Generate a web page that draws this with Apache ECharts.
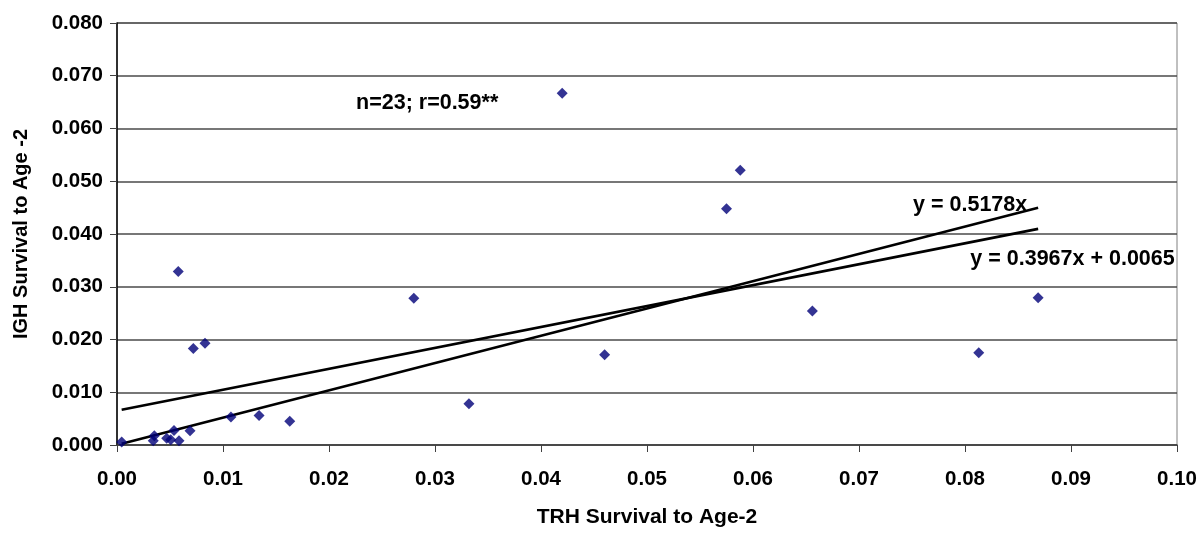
<!DOCTYPE html>
<html>
<head>
<meta charset="utf-8">
<script src="https://cdn.jsdelivr.net/npm/echarts@6/dist/echarts.min.js"></script>
<style>
  html, body { margin: 0; padding: 0; background: #fff; }
  #chart { width: 1201px; height: 535px; }
</style>
</head>
<body>
<div id="chart"></div>
<script>
// TRH vs IGH survival to age 2, one point per year
const trhSurvival = [
  0.00044, 0.00342, 0.00352, 0.00469, 0.00507, 0.00538, 0.00585, 0.00689,
  0.00578, 0.0072, 0.0083, 0.01075, 0.0134, 0.0163, 0.0280, 0.0332,
  0.0420, 0.0460, 0.0575, 0.0588, 0.0656, 0.0813, 0.0869
];
const ighSurvival = [
  0.00057, 0.0008, 0.00176, 0.0013, 0.0010, 0.00276, 0.0008, 0.0027,
  0.0329, 0.0183, 0.0193, 0.0053, 0.0056, 0.0045, 0.0278, 0.0078,
  0.0667, 0.0171, 0.0448, 0.0521, 0.0254, 0.0175, 0.0279
];

// Fitted trendlines (coefficients as printed on the chart)
const fitThroughOrigin = { slope: 0.5178, intercept: 0 };
const fitLinear = { slope: 0.3967, intercept: 0.0065 };

const xTicks = { min: 0, max: 0.10, step: 0.01 };
const yTicks = { min: 0, max: 0.080, step: 0.010 };

const statsText = 'n=23; r=0.59**';
const fitOriginText = 'y = 0.5178x';
const fitLinearText = 'y = 0.3967x + 0.0065';

const FONT = '"Liberation Sans", Arial, sans-serif';

const points = trhSurvival.map((x, i) => [x, ighSurvival[i]]);
const xLo = Math.min(...trhSurvival);
const xHi = Math.max(...trhSurvival);
const lineFrom = f => [[xLo, f.slope * xLo + f.intercept], [xHi, f.slope * xHi + f.intercept]];

const chart = echarts.init(document.getElementById('chart'), null, { renderer: 'canvas' });

const option = {
  animation: false,
  backgroundColor: '#ffffff',
  grid: {
    left: 117, right: 24, top: 23, bottom: 90,
    show: true, borderColor: '#808080', borderWidth: 1
  },
  xAxis: {
    type: 'value',
    min: xTicks.min, max: xTicks.max, interval: xTicks.step,
    name: 'TRH Survival to Age-2',
    nameLocation: 'middle',
    nameGap: 62,
    nameTextStyle: { fontFamily: FONT, fontWeight: 'bold', fontSize: 21, color: '#000' },
    axisLine: { show: true, onZero: false, lineStyle: { color: '#404040', width: 1.5 } },
    axisTick: { show: true, inside: false, length: 7, lineStyle: { color: '#404040', width: 1 } },
    axisLabel: {
      margin: 24,
      fontFamily: FONT, fontWeight: 'bold', fontSize: 20.5, color: '#000',
      formatter: v => v.toFixed(2)
    },
    splitLine: { show: false }
  },
  yAxis: {
    type: 'value',
    min: yTicks.min, max: yTicks.max, interval: yTicks.step,
    name: 'IGH Survival to Age -2',
    nameLocation: 'middle',
    nameGap: 86,
    nameRotate: 90,
    nameTextStyle: { fontFamily: FONT, fontWeight: 'bold', fontSize: 20, color: '#000' },
    axisLine: { show: true, onZero: false, lineStyle: { color: '#000', width: 1.5 } },
    axisTick: { show: true, inside: false, length: 7, lineStyle: { color: '#404040', width: 1 } },
    axisLabel: {
      margin: 14,
      fontFamily: FONT, fontWeight: 'bold', fontSize: 20.5, color: '#000',
      formatter: v => v.toFixed(3)
    },
    splitLine: { show: true, lineStyle: { color: '#4a4a4a', width: 1.5 } }
  },
  series: [
    {
      type: 'line',
      data: lineFrom(fitLinear),
      symbol: 'none',
      lineStyle: { color: '#000', width: 2.6 },
      z: 2
    },
    {
      type: 'line',
      data: lineFrom(fitThroughOrigin),
      symbol: 'none',
      lineStyle: { color: '#000', width: 2.6 },
      z: 2
    },
    {
      type: 'scatter',
      data: points,
      symbol: 'diamond',
      symbolSize: [11, 11],
      itemStyle: { color: '#000078' },
      z: 3
    }
  ]
};
chart.setOption(option);

// Annotations anchored at data coordinates
const notes = [
  { text: statsText, at: [0.02255, 0.0648] },
  { text: fitOriginText, at: [0.0751, 0.0455] },
  { text: fitLinearText, at: [0.0805, 0.0353] }
];
chart.setOption({
  graphic: notes.map(n => {
    const p = chart.convertToPixel({ gridIndex: 0 }, n.at);
    return {
      type: 'text',
      x: p[0], y: p[1],
      z: 10,
      style: {
        text: n.text,
        fill: '#000',
        font: 'bold 21.5px ' + FONT,
        verticalAlign: 'middle',
        align: 'left'
      }
    };
  })
});
</script>
</body>
</html>
